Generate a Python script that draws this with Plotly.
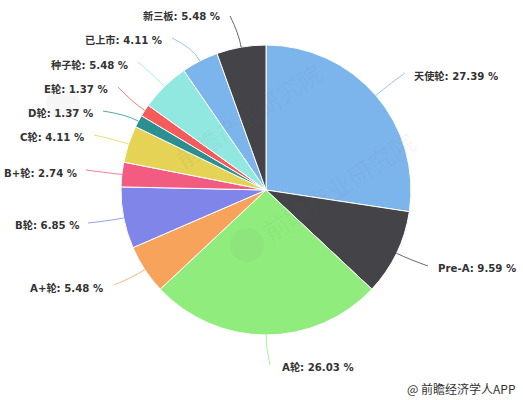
import numpy as np
import plotly.graph_objects as go

# 融资轮次分布
labels = ["天使轮", "Pre-A", "A轮", "A+轮", "B轮", "B+轮", "C轮", "D轮", "E轮", "种子轮", "已上市", "新三板"]
values = [27.39, 9.59, 26.03, 5.48, 6.85, 2.74, 4.11, 1.37, 1.37, 5.48, 4.11, 5.48]
colors = ["#7cb5ec", "#434348", "#90ed7d", "#f7a35c", "#8085e9", "#f15c80",
          "#e4d354", "#2b908f", "#f45b5b", "#91e8e1", "#7cb5ec", "#434348"]

W, H = 523, 400
CX, CY, R = 266, 190, 145
FONT = "DejaVu Sans, Noto Sans CJK SC, sans-serif"

# 标签位置 (像素): 文字锚点 x, y, 对齐方式, 引线终点 x, y
label_pos = [
    (412, 76, "left", 405, 73),
    (436, 268, "left", 428, 266),
    (280, 367, "left", 270, 365),
    (105, 288, "right", 114, 285),
    (81, 225, "right", 88, 223),
    (79, 173, "right", 86, 170),
    (86, 137, "right", 94, 135),
    (95, 113, "right", 103, 111),
    (110, 89, "right", 118, 87),
    (130, 65, "right", 138, 62),
    (164, 40, "right", 172, 38),
    (222, 16, "right", 230, 16),
]


def px_x(x):
    return x / W


def px_y(y):
    return 1 - y / H


fig = go.Figure(go.Pie(
    labels=labels,
    values=values,
    sort=False,
    direction="clockwise",
    rotation=0,
    textinfo="none",
    marker=dict(colors=colors, line=dict(color="white", width=1)),
    domain=dict(x=[px_x(CX - R), px_x(CX + R)], y=[px_y(CY + R), px_y(CY - R)]),
    showlegend=False,
))

# 标签和引线
mids = (np.cumsum(values) - np.array(values) / 2) / sum(values) * 2 * np.pi
for name, val, col, mid, pos in zip(labels, values, colors, mids, label_pos):
    tx, ty, side, ex, ey = pos
    sx = CX + R * np.sin(mid)
    sy = CY - R * np.cos(mid)
    # 控制点沿半径方向往外
    qx = CX + (R + 14) * np.sin(mid)
    qy = CY - (R + 14) * np.cos(mid)
    fig.add_shape(
        type="path",
        xref="paper", yref="paper",
        path=f"M {px_x(sx):.4f} {px_y(sy):.4f} Q {px_x(qx):.4f} {px_y(qy):.4f} {px_x(ex):.4f} {px_y(ey):.4f}",
        line=dict(color=col, width=0.8),
    )
    fig.add_annotation(
        x=px_x(tx), y=px_y(ty), xref="paper", yref="paper",
        text=f"<b>{name}: {val:.2f} %</b>",
        xanchor=side, yanchor="middle", showarrow=False,
        font=dict(family=FONT, size=10.2, color="#333333"),
    )

# 水印: 文字和圆形标志
for x, y, size, lx, ly in [(165, 52, 24, 63, 103), (338, 186, 25, 247, 245)]:
    fig.add_annotation(
        x=px_x(x), y=px_y(y), xref="paper", yref="paper",
        text="前瞻产业研究院", textangle=-33, showarrow=False,
        font=dict(family="Noto Sans CJK SC", size=size, color="rgba(110,110,110,0.07)"),
    )
    fig.add_shape(
        type="circle", xref="paper", yref="paper",
        x0=px_x(lx - 17), x1=px_x(lx + 17), y0=px_y(ly + 17), y1=px_y(ly - 17),
        fillcolor="rgba(110,110,110,0.06)", line=dict(width=0),
    )

fig.add_annotation(
    x=px_x(518), y=px_y(388), xref="paper", yref="paper",
    text="@ 前瞻经济学人APP", xanchor="right", yanchor="middle", showarrow=False,
    font=dict(family="Noto Sans CJK SC, sans-serif", size=12, color="#333333"),
)

fig.update_layout(
    width=W, height=H,
    margin=dict(l=0, r=0, t=0, b=0),
    paper_bgcolor="white",
)

fig.write_html("out.html", config={"displayModeBar": False}, post_script="document.body.style.margin='0';")
